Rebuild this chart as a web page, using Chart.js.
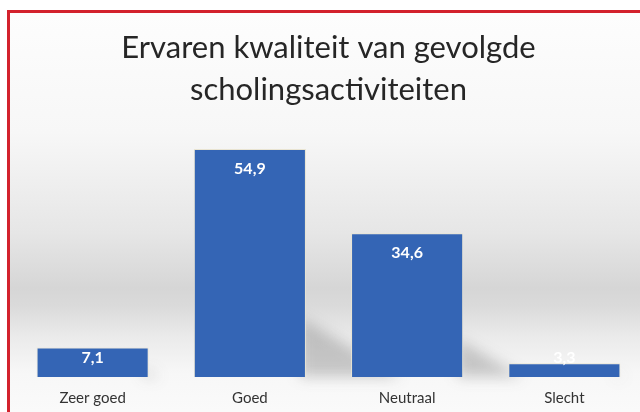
<!DOCTYPE html>
<html>
<head>
<meta charset="utf-8">
<script src="https://cdn.jsdelivr.net/npm/chart.js@4/dist/chart.umd.min.js"></script>
<style>
  html, body { margin: 0; padding: 0; background: #fff; overflow: hidden; }
  body { width: 640px; height: 412px; position: relative; }
  /* kader met rode rand links en boven */
  .kader {
    position: absolute; left: 7px; top: 10px; width: 660px; height: 420px;
    border-left: 3px solid #d3222d; border-top: 3px solid #d3222d;
    background: linear-gradient(to bottom, #fdfdfd 0px, #f7f7f7 120px, #e6e6e6 220px,
      #d6d6d6 275px, #dadada 292px, #ebebeb 325px, #f7f7f7 360px, #fbfbfb 410px);
  }
  .grafiek { position: absolute; left: 0; top: 0; width: 660px; height: 411px; }
</style>
</head>
<body>
<div class="kader"></div>
<div class="grafiek"><canvas id="scholingChart"></canvas></div>
<script>
// data
var categorieen = ["Zeer goed", "Goed", "Neutraal", "Slecht"];
var percentages = [7.1, 54.9, 34.6, 3.3];
var titelRegels = ["Ervaren kwaliteit van gevolgde", "scholingsactiviteiten"];

// schaduw achter de balken (schuin naar rechts)
var balkSchaduw = {
	id : 'balkSchaduw',
	beforeDatasetsDraw : function(chart) {
		var ctx = chart.ctx;
		var meta = chart.getDatasetMeta(0);
		ctx.save();
		ctx.filter = 'blur(7px)';
		ctx.fillStyle = 'rgba(60,60,60,0.25)';
		meta.data.forEach(function(bar) {
			var h = bar.base - bar.y;
			var rechts = bar.x + bar.width / 2;
			ctx.beginPath();
			ctx.moveTo(rechts - 6, bar.base);
			ctx.lineTo(rechts - 6, bar.base - h * 0.26);
			ctx.lineTo(rechts + h * 0.42, bar.base);
			ctx.closePath();
			ctx.fill();
		});
		ctx.restore();
	}
};

// waarden in de balk schrijven (komma als decimaalteken)
var waardeLabels = {
	id : 'waardeLabels',
	afterDatasetsDraw : function(chart) {
		var ctx = chart.ctx;
		var meta = chart.getDatasetMeta(0);
		ctx.save();
		ctx.fillStyle = '#ffffff';
		ctx.font = 'bold 16px Lato';
		ctx.textAlign = 'center';
		ctx.textBaseline = 'middle';
		meta.data.forEach(function(bar, i) {
			var y = Math.min(bar.y + 20, bar.base - 19);
			ctx.fillText(percentages[i].toFixed(1).replace('.', ','), bar.x, y);
		});
		ctx.restore();
	}
};

var ctx = document.getElementById("scholingChart");
var myBarChart = new Chart(ctx, {
	type : 'bar',
	data : {
		labels : categorieen,
		datasets : [ {
			label : "Ervaren kwaliteit",
			data : percentages,
			backgroundColor : "#3465b5",
			borderColor : "#e9e4d2",
			borderWidth : 1,
			borderSkipped : 'bottom',
			barPercentage : 0.713,
			categoryPercentage : 1.0
		} ]
	},
	options : {
		responsive : true,
		maintainAspectRatio : false,
		animation : false,
		layout : {
			padding : { left : 14, right : 17, top : 6, bottom : 0 }
		},
		plugins : {
			legend : { display : false },
			tooltip : { enabled : false },
			title : {
				display : true,
				text : titelRegels,
				color : '#262626',
				font : { family : 'Lato', size : 31, weight : 'normal', lineHeight : 1.35 },
				padding : { top : 21, bottom : 17 }
			}
		},
		scales : {
			y : {
				display : false,
				min : 0,
				max : 60
			},
			x : {
				grid : { display : false },
				border : { display : false },
				ticks : {
					color : '#333333',
					font : { family : 'Lato', size : 15 },
					padding : 4
				}
			}
		}
	},
	plugins : [ balkSchaduw, waardeLabels ]
});
</script>
</body>
</html>
